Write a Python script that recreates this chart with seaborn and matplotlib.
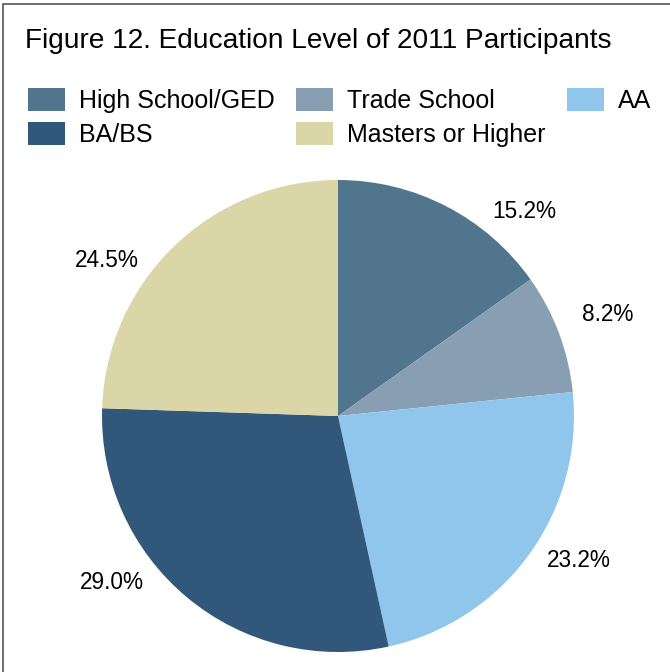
import matplotlib
matplotlib.use("Agg")
import matplotlib.pyplot as plt
import seaborn as sns
import numpy as np
from matplotlib.patches import Patch, Rectangle

categories = ["High School/GED", "Trade School", "AA", "BA/BS", "Masters or Higher"]
values = [15.2, 8.2, 23.2, 29.0, 24.5]
pct_labels = ["15.2%", "8.2%", "23.2%", "29.0%", "24.5%"]
title = "Figure 12. Education Level of 2011 Participants"

colors = sns.color_palette(["#50758C", "#889EB3", "#90C6EB", "#31577A", "#DBD6A8"])

sns.set_theme(style="white")
plt.rcParams["font.family"] = ["Liberation Sans", "DejaVu Sans"]
plt.rcParams["text.color"] = "black"

W, H = 670, 672
fig = plt.figure(figsize=(W / 100, H / 100), dpi=100)
fig.patch.set_facecolor("white")

# pie axes: centre (338,416), radius 236 px
cx, cy, r = 338, 416, 236
ax = fig.add_axes([(cx - r) / W, (H - cy - r) / H, 2 * r / W, 2 * r / H])
wedges, _ = ax.pie(values, colors=colors, startangle=90, counterclock=False,
                   wedgeprops=dict(linewidth=0))
ax.set_xlim(-1, 1)
ax.set_ylim(-1, 1)
ax.set_aspect("equal")
ax.axis("off")

# percentage labels placed outside the slices
label_angles_shift = [15, 0, -5, 14, -12]  # degrees (label placement tweak)
label_dist = [1.17, 1.22, 1.19, 1.19, 1.18]
cum = np.cumsum([0] + values[:-1])
total = sum(values)
for i, (v, c0) in enumerate(zip(values, cum)):
    mid = (c0 + v / 2) / total * 360 + label_angles_shift[i]
    th = np.deg2rad(90 - mid)
    ax.text(label_dist[i] * np.cos(th), label_dist[i] * np.sin(th), pct_labels[i],
            ha="center", va="center", fontsize=16.3, color="black", clip_on=False)

# title
fig.text(25 / W, 1 - 48 / H, title, fontsize=20.2, ha="left", va="baseline", color="black")

# legend (row-major ordering as in reference)
order = [0, 3, 1, 4, 2]
handles = [Patch(facecolor=colors[i], edgecolor="none") for i in order]
labels = [categories[i] for i in order]
leg = fig.legend(handles, labels, ncol=3, loc="upper left",
                 bbox_to_anchor=(28 / W, 1 - 88 / H), bbox_transform=fig.transFigure,
                 frameon=False, fontsize=18, handlelength=1.48, handleheight=1.04,
                 handletextpad=0.56, columnspacing=0.86, labelspacing=0.36,
                 borderpad=0, borderaxespad=0)
for t in leg.get_texts():
    t.set_color("black")

# frame border
fig.add_artist(Rectangle((2.5 / W, -0.05), 1.2, 1 - 3.5 / H + 0.05, transform=fig.transFigure,
                         fill=False, edgecolor="#555555", linewidth=1.2))

fig.savefig("out.png", dpi=100, facecolor="white")
